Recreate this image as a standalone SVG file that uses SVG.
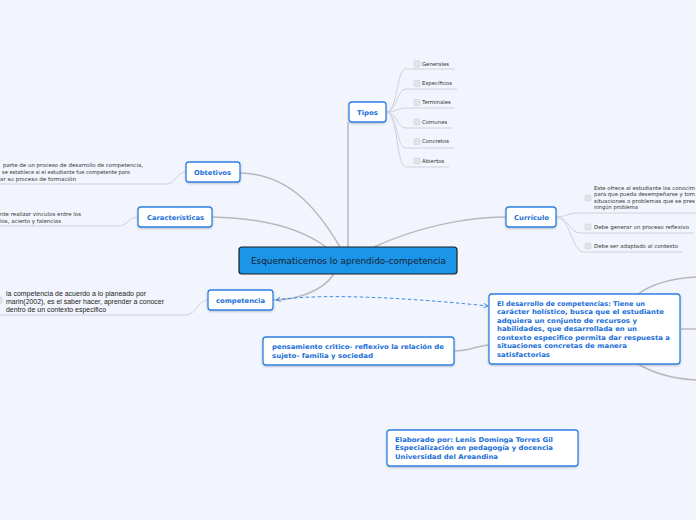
<svg xmlns="http://www.w3.org/2000/svg" width="696" height="520" viewBox="0 0 696 520">
<defs>
<marker id="arr" viewBox="0 0 8 8" refX="7" refY="4" markerWidth="6" markerHeight="6" orient="auto-start-reverse" markerUnits="userSpaceOnUse">
<path d="M1,1 L7,4 L1,7" fill="none" stroke="#3d8ae3" stroke-width="1.2"/>
</marker>
<filter id="sh" x="-10%" y="-10%" width="120%" height="130%">
<feDropShadow dx="0" dy="1" stdDeviation="0.8" flood-color="#7a8699" flood-opacity="0.5"/>
</filter>
</defs>
<style>
.bg{fill:#f2f5fd}
.main{fill:none;stroke:#b9b9bd;stroke-width:1.5}
.sub{fill:none;stroke:#cfd2d8;stroke-width:1}
.box{fill:#ffffff;stroke:#2c82e2;stroke-width:1.3;filter:url(#sh)}
.lbl{font-family:"DejaVu Sans",Verdana,sans-serif;font-weight:bold;font-size:6.6px;fill:#1b70d8}
.lblc{text-anchor:middle}
.small{font-family:"DejaVu Sans",Verdana,sans-serif;font-size:5.4px;fill:#333}
.arial{font-family:"Liberation Sans",Arial,sans-serif;font-size:6.5px;fill:#222}
.chk{fill:#e3e4e7;stroke:#cdd0d5;stroke-width:0.6}
.dash{fill:none;stroke:#3d8ae3;stroke-width:1;stroke-dasharray:3.5,2.5}
</style>
<rect class="bg" x="0" y="0" width="696" height="520"/>

<g id="connectors">
<path class="main" d="M348,122 L348,247"/>
<path class="main" d="M240,173 C290,174 318,210 340,247"/>
<path class="main" d="M212,217 C262,218 300,228 326,247"/>
<path class="main" d="M374,247 C420,226 468,217 506,217"/>
<path class="main" d="M334,274 C322,292 295,300 273,300"/>
<path class="dash" d="M276,300 C330,292 430,300 488,306" marker-start="url(#arr)" marker-end="url(#arr)"/>
<path class="main" d="M454,351 C470,351 476,346 489,345"/>
<path class="main" d="M638,294 C655,282 675,278 696,277"/>
<path class="main" d="M681,329 L696,329"/>
<path class="main" d="M638,364 C655,374 675,379 696,380"/>
<path class="sub" d="M386,112 C398,112 396,69 406,69 L455,69"/>
<path class="sub" d="M386,112 C398,112 396,89 406,89 L457,89"/>
<path class="sub" d="M386,112 C398,112 396,108 406,108 L455,108"/>
<path class="sub" d="M386,112 C398,112 396,128 406,128 L452,128"/>
<path class="sub" d="M386,112 C398,112 396,148 406,148 L454,148"/>
<path class="sub" d="M386,112 C398,112 396,167 406,167 L449,167"/>
<path class="sub" d="M556,217 C566,217 568,213 577,213 L696,213"/>
<path class="sub" d="M556,217 C568,217 570,233 580,233 L693,233"/>
<path class="sub" d="M556,217 C570,217 572,252 584,252 L683,252"/>
<path class="sub" d="M186,172 C176,172 176,184 166,184 L0,184"/>
<path class="sub" d="M138,217 C128,217 128,226 118,226 L0,226"/>
<path class="sub" d="M208,300 C198,300 196,315 186,315 L0,315"/>
</g>

<g id="central">
<rect x="239" y="247" width="218" height="27" rx="3" fill="#1a95e8" stroke="#1e1e1e" stroke-width="1.2"/>
<text x="251" y="264" textLength="195" lengthAdjust="spacingAndGlyphs" font-family="DejaVu Sans,Verdana,sans-serif" font-size="9px" fill="#1a2130">Esquematicemos lo aprendido-competencia</text>
</g>

<g id="tipos">
<rect class="box" x="349" y="102" width="37" height="20" rx="3"/>
<text class="lbl" x="357" y="114.5" textLength="21" lengthAdjust="spacingAndGlyphs">Tipos</text>
</g>
<g id="tipos-items">
<rect class="chk" x="414" y="61" width="6" height="6" rx="1"/><text class="small" x="422" y="65.5" textLength="27" lengthAdjust="spacingAndGlyphs">Generales</text>
<rect class="chk" x="414" y="80.5" width="6" height="6" rx="1"/><text class="small" x="422" y="85" textLength="30" lengthAdjust="spacingAndGlyphs">Específicos</text>
<rect class="chk" x="414" y="99.5" width="6" height="6" rx="1"/><text class="small" x="422" y="104">Terminales</text>
<rect class="chk" x="414" y="119" width="6" height="6" rx="1"/><text class="small" x="422" y="123.5">Comunes</text>
<rect class="chk" x="414" y="138.5" width="6" height="6" rx="1"/><text class="small" x="422" y="143">Concretos</text>
<rect class="chk" x="414" y="158" width="6" height="6" rx="1"/><text class="small" x="422" y="162.5">Abiertos</text>
</g>

<g id="obtetivos">
<rect class="box" x="186" y="162" width="54" height="20" rx="3"/>
<text class="lbl" x="194" y="174.5" textLength="37" lengthAdjust="spacingAndGlyphs">Obtetivos</text>
<text class="small" x="3" y="167" textLength="140" lengthAdjust="spacingAndGlyphs">parte de un proceso de desarrollo de competencia,</text>
<text class="small" x="2" y="174" textLength="128" lengthAdjust="spacingAndGlyphs">se establece si el estudiante fue competente para</text>
<text class="small" x="0" y="181" textLength="76" lengthAdjust="spacingAndGlyphs">ar su proceso de formación</text>
</g>

<g id="caracteristicas">
<rect class="box" x="138" y="207" width="74" height="20" rx="3"/>
<text class="lbl" x="147" y="219.5" textLength="57" lengthAdjust="spacingAndGlyphs">Características</text>
<text class="small" x="0" y="215.5" textLength="81" lengthAdjust="spacingAndGlyphs">nte realizar vínculos entre los</text>
<text class="small" x="0" y="222.5" textLength="61" lengthAdjust="spacingAndGlyphs">los, acierto y falencias</text>
</g>

<g id="curriculo">
<rect class="box" x="506" y="207" width="50" height="20" rx="3"/>
<text class="lbl" x="514" y="219.5" textLength="35" lengthAdjust="spacingAndGlyphs">Currículo</text>
<rect class="chk" x="585" y="195" width="6" height="6" rx="1"/>
<text class="small" x="594" y="189.5" textLength="101" lengthAdjust="spacingAndGlyphs">Este ofrece al estudiante los conocim</text>
<text class="small" x="594" y="196" textLength="101" lengthAdjust="spacingAndGlyphs">para que pueda desempeñarse y tom</text>
<text class="small" x="594" y="202.5" textLength="101" lengthAdjust="spacingAndGlyphs">situaciones o problemas que se pres</text>
<text class="small" x="594" y="209" textLength="44" lengthAdjust="spacingAndGlyphs">ningún problema</text>
<rect class="chk" x="585" y="224" width="6" height="6" rx="1"/>
<text class="small" x="594" y="228.5" textLength="95" lengthAdjust="spacingAndGlyphs">Debe generar un proceso reflexivo</text>
<rect class="chk" x="585" y="243" width="6" height="6" rx="1"/>
<text class="small" x="594" y="247.5" textLength="84" lengthAdjust="spacingAndGlyphs">Debe ser adaptado al contexto</text>
</g>

<g id="competencia">
<rect class="box" x="208" y="290" width="65" height="20" rx="3"/>
<text class="lbl" x="216" y="302.5" textLength="49" lengthAdjust="spacingAndGlyphs">competencia</text>
<rect class="chk" x="-4" y="297" width="6" height="6" rx="1"/>
<text class="arial" x="6" y="295.5" textLength="140" lengthAdjust="spacingAndGlyphs">la competencia de acuerdo a lo planeado por</text>
<text class="arial" x="6" y="303.5" textLength="158" lengthAdjust="spacingAndGlyphs">marin(2002), es el saber hacer, aprender a conocer</text>
<text class="arial" x="6" y="311.5" textLength="100" lengthAdjust="spacingAndGlyphs">dentro de un contexto especifico</text>
</g>

<g id="desarrollo">
<rect class="box" x="489" y="294" width="191" height="70" rx="3"/>
<text class="lbl" x="497" y="305.5" textLength="148" lengthAdjust="spacingAndGlyphs">El desarrollo de competencias: Tiene un</text>
<text class="lbl" x="497" y="314" textLength="167" lengthAdjust="spacingAndGlyphs">carácter holístico, busca que el estudiante</text>
<text class="lbl" x="497" y="322.5" textLength="140" lengthAdjust="spacingAndGlyphs">adquiera un conjunto de recursos y</text>
<text class="lbl" x="497" y="331" textLength="140" lengthAdjust="spacingAndGlyphs">habilidades, que desarrollada en un</text>
<text class="lbl" x="497" y="339.5" textLength="173" lengthAdjust="spacingAndGlyphs">contexto especifico permita dar respuesta a</text>
<text class="lbl" x="497" y="348" textLength="130" lengthAdjust="spacingAndGlyphs">situaciones concretas de manera</text>
<text class="lbl" x="497" y="356.5" textLength="53" lengthAdjust="spacingAndGlyphs">satisfactorias</text>
</g>

<g id="pensamiento">
<rect class="box" x="263" y="337" width="191" height="28" rx="3"/>
<text class="lbl" x="272" y="349" textLength="172" lengthAdjust="spacingAndGlyphs">pensamiento critico- reflexivo la relación de</text>
<text class="lbl" x="272" y="357.5" textLength="101" lengthAdjust="spacingAndGlyphs">sujeto- familia y sociedad</text>
</g>

<g id="elaborado">
<rect class="box" x="387" y="430" width="191" height="36" rx="3"/>
<text class="lbl" x="395" y="441.5" textLength="158" lengthAdjust="spacingAndGlyphs">Elaborado por: Lenis Dominga Torres Gil</text>
<text class="lbl" x="395" y="450" textLength="158" lengthAdjust="spacingAndGlyphs">Especialización en pedagogía y docencia</text>
<text class="lbl" x="395" y="458.5" textLength="103" lengthAdjust="spacingAndGlyphs">Universidad del Areandina</text>
</g>
</svg>
